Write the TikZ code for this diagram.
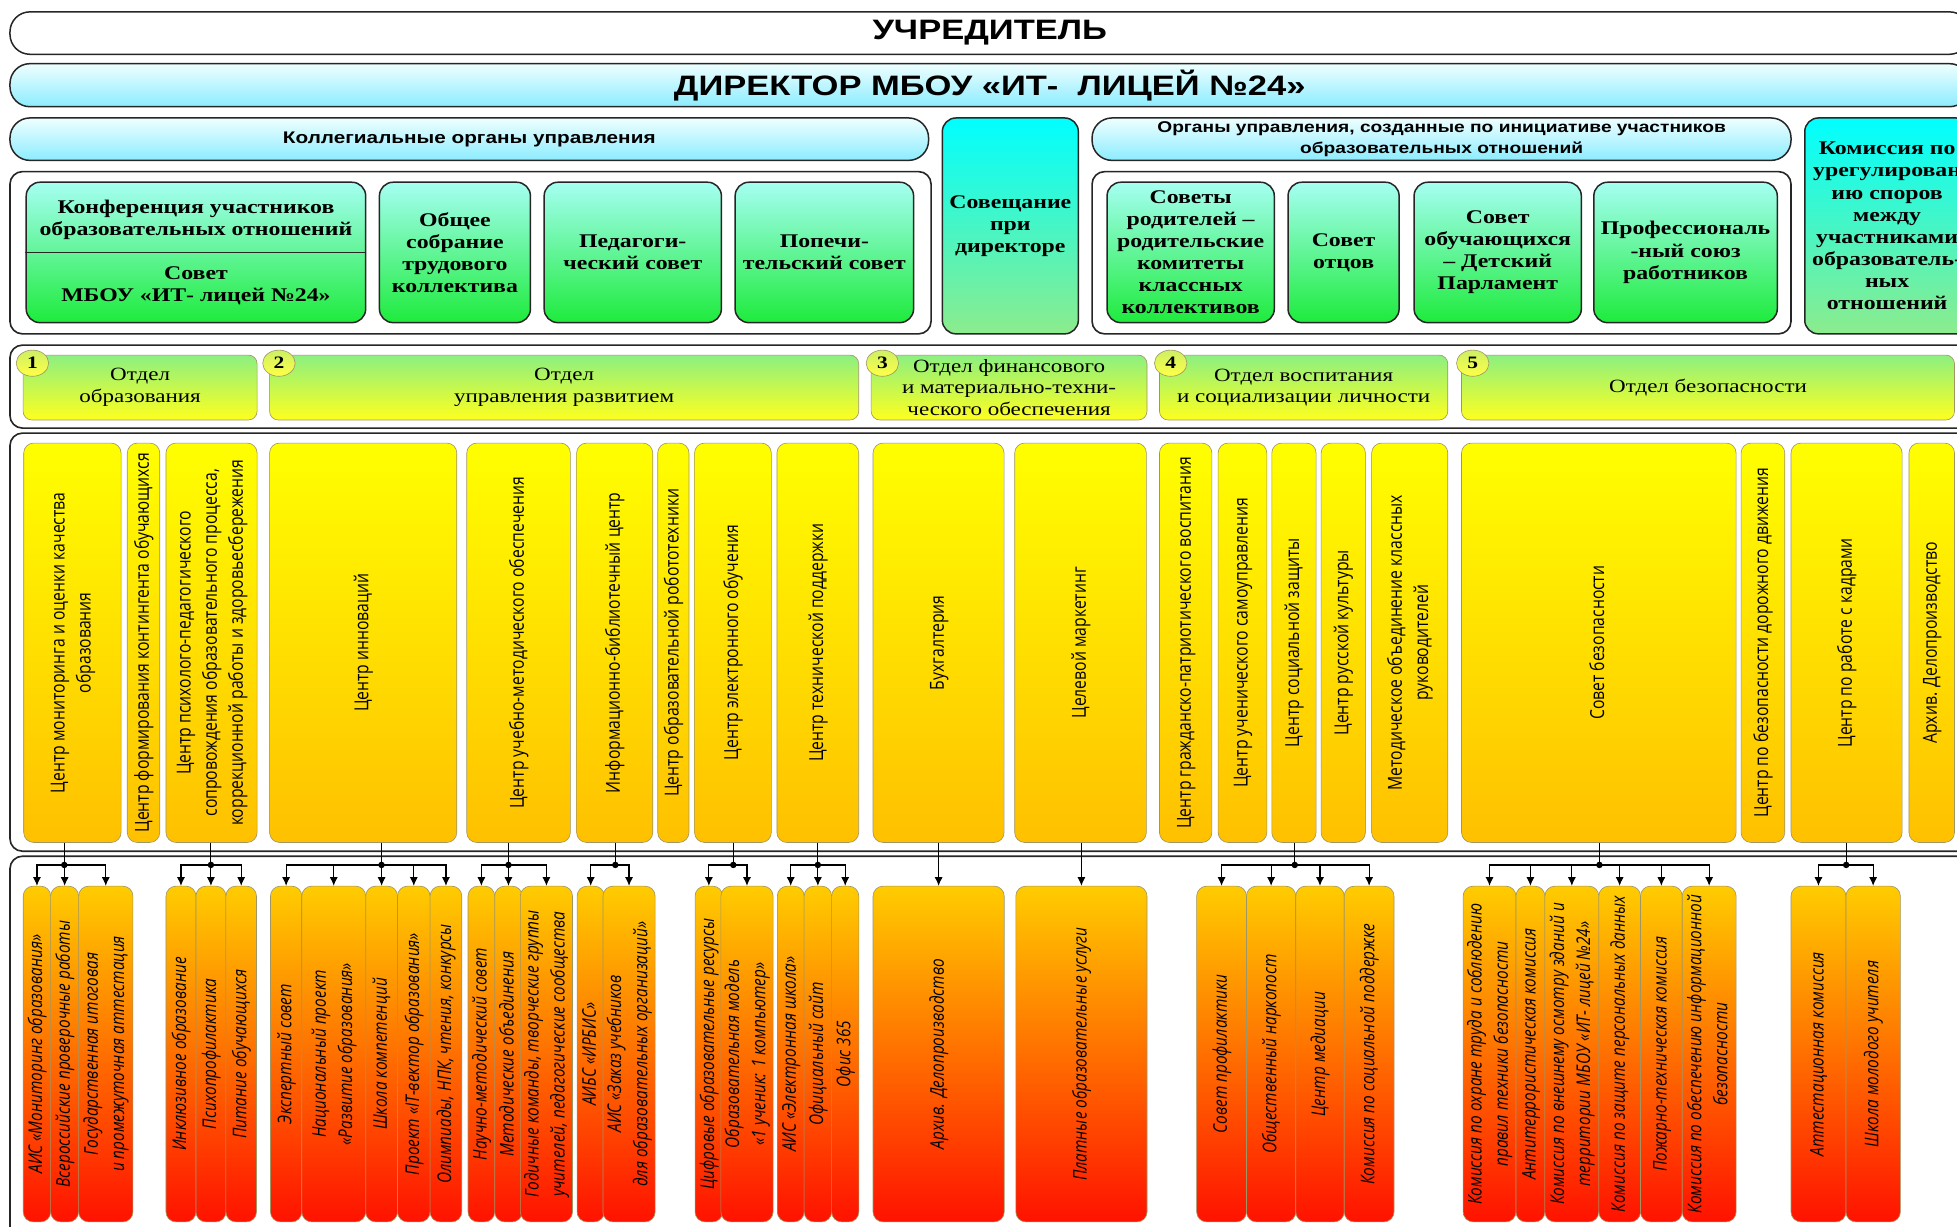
\documentclass[tikz,border=0pt]{standalone}
\usepackage{graphicx}
\usepackage{fontspec}
\setmainfont{Liberation Serif}
\newfontfamily\hsans[FakeStretch=1.23]{Liberation Sans}
\newfontfamily\hserif[FakeStretch=1.23]{Liberation Serif}
\newfontfamily\vsans{Open Sans}
\usetikzlibrary{arrows.meta,shapes.geometric}
\definecolor{cyanlt}{RGB}{238,255,255}
\definecolor{cyanmd}{RGB}{140,236,255}
\definecolor{grtop}{RGB}{165,255,242}
\definecolor{grbot}{RGB}{30,235,60}
\definecolor{cybright}{RGB}{0,255,255}
\definecolor{lgreen}{RGB}{140,236,140}
\definecolor{dtop}{RGB}{140,240,128}
\definecolor{dbot}{RGB}{255,255,30}
\definecolor{ntop}{RGB}{205,240,100}
\definecolor{nbot}{RGB}{255,255,70}
\definecolor{ytop}{RGB}{255,255,0}
\definecolor{ybot}{RGB}{255,192,0}
\definecolor{otop}{RGB}{255,204,0}
\definecolor{obot}{RGB}{255,18,0}
\definecolor{edgec}{RGB}{160,150,100}
\newcommand\bx[7]{\node[#6, minimum width={(#3-#2)*1pt}, minimum height={(#5-#4)*1pt}] (#1) at ({(#2+#3)/2},{(#4+#5)/2}) {#7};}
\newcommand\vt[1]{\rotatebox{90}{\scalebox{1}[1.23]{\vsans\fontsize{12.6}{17}\selectfont\begin{tabular}{@{}c@{}}#1\end{tabular}}}}
\newcommand\vi[1]{\rotatebox{90}{\scalebox{1}[1.23]{\vsans\itshape\fontsize{12.3}{17}\selectfont\begin{tabular}{@{}c@{}}#1\end{tabular}}}}
\begin{document}
\begin{tikzpicture}[x=1pt,y=-1pt,
  pill/.style={draw=black!85, line width=1.2pt, rounded corners=16pt, inner sep=0pt, align=center, font=\hsans\bfseries\fontsize{13.5}{17}\selectfont},
  cont/.style={draw=black!85, line width=1.3pt, rounded corners=10pt, fill=white, inner sep=0pt},
  green/.style={draw=black!85, line width=1.2pt, rounded corners=11pt, top color=grtop, bottom color=grbot, inner sep=0pt, align=center, font=\hserif\bfseries\fontsize{15.5}{17.7}\selectfont},
  sovbox/.style={green, top color=cybright, bottom color=lgreen},
  dept/.style={draw=edgec, line width=0.5pt, rounded corners=7pt, top color=dtop, bottom color=dbot, inner sep=0pt, align=center, font=\hserif\fontsize{15}{17.5}\selectfont},
  num/.style={ellipse, draw=edgec, line width=0.5pt, top color=ntop, bottom color=nbot, minimum width=26pt, minimum height=21pt, inner sep=0pt, font=\hserif\bfseries\fontsize{14}{14}\selectfont},
  ybox/.style={draw=edgec, line width=0.5pt, rounded corners=8pt, top color=ytop, bottom color=ybot, inner sep=0pt},
  obox/.style={draw=edgec, line width=0.5pt, rounded corners=8pt, top color=otop, bottom color=obot, inner sep=0pt},
  conn/.style={line width=0.9pt, draw=black},
  arr/.style={conn, -{Latex[length=7pt,width=6.5pt]}}
]
\useasboundingbox (0,0) rectangle (1568,983);
\clip (0,0) rectangle (1568,983);
\fill[white] (0,0) rectangle (1568,983);
% row 1-2
\bx{ucr}{8}{1578}{9.5}{43.5}{pill,fill=white,font=\hsans\bfseries\fontsize{22.5}{24}\selectfont}{УЧРЕДИТЕЛЬ}
\bx{dir}{8}{1578}{51}{85.5}{pill,top color=cyanlt,bottom color=cyanmd,font=\hsans\bfseries\fontsize{22.5}{24}\selectfont}{ДИРЕКТОР МБОУ «ИТ-\ \ ЛИЦЕЙ №24»}
% row 3 left
\bx{koll}{8}{744}{94.5}{128.5}{pill,top color=cyanlt,bottom color=cyanmd}{Коллегиальные органы управления}
\bx{kc}{8}{746}{137.5}{267.5}{cont}{}
\bx{konf}{21}{293}{146}{258.5}{green}{Конференция участников\\образовательных отношений\\[17pt]Совет\\МБОУ «ИТ- лицей №24»}
\draw[line width=1.2pt, black!85] (konf.west) -- (konf.east);
\bx{obsh}{304}{425}{146}{258.5}{green}{Общее\\собрание\\трудового\\коллектива}
\bx{ped}{436}{578}{146}{258.5}{green}{Педагоги-\\ческий совет}
\bx{pop}{589}{732}{146}{258.5}{green}{Попечи-\\тельский совет}
\bx{sov}{755}{864}{94.5}{267.5}{sovbox}{Совещание\\при\\директоре}
% row 3 right
\bx{org}{875}{1435}{94.5}{128.5}{pill,top color=cyanlt,bottom color=cyanmd,font=\hsans\bfseries\fontsize{12.5}{17}\selectfont}{Органы управления, созданные по инициативе участников\\образовательных отношений}
\bx{oc}{875}{1435}{137.5}{267.5}{cont}{}
\bx{rod}{887}{1021}{146}{258.5}{green}{Советы\\родителей –\\родительские\\комитеты\\классных\\коллективов}
\bx{otc}{1032}{1121}{146}{258.5}{green}{Совет\\отцов}
\bx{obu}{1133}{1267}{146}{258.5}{green}{Совет\\обучающихся\\– Детский\\Парламент}
\bx{prof}{1277}{1424}{146}{258.5}{green}{Профессиональ\\-ный союз\\работников}
\bx{kom}{1446}{1578}{94.5}{267.5}{sovbox}{Комиссия по\\урегулирован\\ию споров\\между\\участниками\\образователь-\\ных\\отношений}
% row 4 departments
\bx{c4}{8}{1580}{276.5}{343}{cont}{}
\bx{d1}{18.5}{206}{284.5}{336.5}{dept}{Отдел\\образования}
\bx{d2}{216}{688}{284.5}{336.5}{dept}{Отдел\\управления развитием}
\bx{d3}{698}{919}{284.5}{336.5}{dept}{Отдел финансового\\и материально-техни-\\ческого обеспечения}
\bx{d4}{929}{1160}{284.5}{336.5}{dept}{Отдел воспитания\\и социализации личности}
\bx{d5}{1171}{1566}{284.5}{336.5}{dept}{Отдел безопасности}
\node[num] (n1) at (26,291) {1};
\node[num] (n2) at (223.5,291) {2};
\node[num] (n3) at (707,291) {3};
\node[num] (n4) at (938,291) {4};
\node[num] (n5) at (1180,291) {5};
% row 5 centres
\bx{c5}{8}{1580}{347}{682}{cont}{}
\bx{y1}{19}{97}{355}{675}{ybox}{\vt{Центр мониторинга и оценки качества\\образования}}
\bx{y2}{102}{128}{355}{675}{ybox}{\vt{Центр формирования контингента обучающихся}}
\bx{y3}{133}{206}{355}{675}{ybox}{\vt{Центр психолого-педагогического\\сопровождения образовательного процесса,\\коррекционной работы и здоровьесбережения}}
\bx{y4}{216}{366}{355}{675}{ybox}{\vt{Центр инноваций}}
\bx{y5}{374}{457}{355}{675}{ybox}{\vt{Центр учебно-методического обеспечения}}
\bx{y6}{462}{523}{355}{675}{ybox}{\vt{Информационно-библиотечный центр}}
\bx{y7}{527}{552}{355}{675}{ybox}{\vt{Центр образовательной робототехники}}
\bx{y8}{556.5}{618}{355}{675}{ybox}{\vt{Центр электронного обучения}}
\bx{y9}{622.5}{688}{355}{675}{ybox}{\vt{Центр технической поддержки}}
\bx{y10}{699.5}{804.5}{355}{675}{ybox}{\vt{Бухгалтерия}}
\bx{y11}{813}{918.5}{355}{675}{ybox}{\vt{Целевой маркетинг}}
\bx{y12}{929}{971}{355}{675}{ybox}{\vt{Центр гражданско-патриотического воспитания}}
\bx{y13}{976}{1015}{355}{675}{ybox}{\vt{Центр ученического самоуправления}}
\bx{y14}{1019}{1054.5}{355}{675}{ybox}{\vt{Центр социальной защиты}}
\bx{y15}{1058.5}{1094}{355}{675}{ybox}{\vt{Центр русской культуры}}
\bx{y16}{1099}{1160}{355}{675}{ybox}{\vt{Методическое объединение классных\\руководителей}}
\bx{y17}{1171}{1391}{355}{675}{ybox}{\vt{Совет безопасности}}
\bx{y18}{1395}{1430}{355}{675}{ybox}{\vt{Центр по безопасности дорожного движения}}
\bx{y19}{1435}{1524}{355}{675}{ybox}{\vt{Центр по работе с кадрами}}
\bx{y20}{1529.5}{1566}{355}{675}{ybox}{\vt{Архив. Делопроизводство}}
% row 6 units
\bx{c6}{8}{1580}{686}{1000}{cont}{}
\bx{a1}{18.6}{40.6}{710}{979}{obox}{\vi{АИС «Мониторинг образования»}}
\bx{a2}{40.6}{63}{710}{979}{obox}{\vi{Всероссийские проверочные работы}}
\bx{a3}{63}{106.5}{710}{979}{obox}{\vi{Государственная итоговая\\и промежуточная аттестация}}
\bx{b1}{133}{157}{710}{979}{obox}{\vi{Инклюзивное образование}}
\bx{b2}{157}{181}{710}{979}{obox}{\vi{Психопрофилактика}}
\bx{b3}{181}{205.5}{710}{979}{obox}{\vi{Питание обучающихся}}
\bx{c1}{216.7}{241.8}{710}{979}{obox}{\vi{Экспертный совет}}
\bx{c2}{241.8}{293}{710}{979}{obox}{\vi{Национальный проект\\«Развитие образования»}}
\bx{c3}{293}{318.5}{710}{979}{obox}{\vi{Школа компетенций}}
\bx{c4b}{318.5}{344.6}{710}{979}{obox}{\vi{Проект «IT-вектор образования»}}
\bx{c5b}{344.6}{370}{710}{979}{obox}{\vi{Олимпиады, НПК, чтения, конкурсы}}
\bx{e1d}{375}{396.4}{710}{979}{obox}{\vi{Научно-методический совет}}
\bx{e2d}{396.4}{418.4}{710}{979}{obox}{\vi{Методические объединения}}
\bx{e3d}{418.4}{457.2}{710}{979}{obox}{\vi{Годичные команды, творческие группы\\учителей, педагогические сообщества}}
\bx{f1}{462.4}{484.2}{710}{979}{obox}{\vi{АИБС «ИРБИС»}}
\bx{f2}{484.2}{523.8}{710}{979}{obox}{\vi{АИС «Заказ учебников\\для образовательных организаций»}}
\bx{g1}{556.9}{579}{710}{979}{obox}{\vi{Цифровые образовательные ресурсы}}
\bx{g2}{579}{618}{710}{979}{obox}{\vi{Образовательная модель\\«1 ученик: 1 компьютер»}}
\bx{h1}{622.8}{644.3}{710}{979}{obox}{\vi{АИС «Электронная школа»}}
\bx{h2}{644.3}{666.3}{710}{979}{obox}{\vi{Официальный сайт}}
\bx{h3}{666.3}{688.1}{710}{979}{obox}{\vi{Офис 365}}
\bx{i1}{699.5}{804.6}{710}{979}{obox}{\vi{Архив. Делопроизводство}}
\bx{k1}{813.9}{919}{710}{979}{obox}{\vi{Платные образовательные услуги}}
\bx{j1}{958.8}{998.7}{710}{979}{obox}{\vi{Совет профилактики}}
\bx{j2}{998.7}{1038.2}{710}{979}{obox}{\vi{Общественный наркопост}}
\bx{j3}{1038.2}{1077}{710}{979}{obox}{\vi{Центр медиации}}
\bx{j4}{1077}{1116.9}{710}{979}{obox}{\vi{Комиссия по социальной поддержке}}
\bx{s1}{1172.3}{1214.6}{710}{979}{obox}{\vi{Комиссия по охране труда и соблюдению\\правил техники безопасности}}
\bx{s2}{1214.6}{1237.8}{710}{979}{obox}{\vi{Антитеррористическая комиссия}}
\bx{s3}{1237.8}{1281}{710}{979}{obox}{\vi{Комиссия по внешнему осмотру зданий и\\территории МБОУ «ИТ- лицей №24»}}
\bx{s4}{1281}{1314.4}{710}{979}{obox}{\vi{Комиссия по защите персональных данных}}
\bx{s5}{1314.4}{1347.8}{710}{979}{obox}{\vi{Пожарно-техническая комиссия}}
\bx{s6}{1347.8}{1391}{710}{979}{obox}{\vi{Комиссия по обеспечению информационной\\безопасности}}
\bx{l1}{1435}{1479}{710}{979}{obox}{\vi{Аттестационная комиссия}}
\bx{l2}{1479}{1522.6}{710}{979}{obox}{\vi{Школа молодого учителя}}
% connectors
\coordinate (jA) at (51.5,693);
\coordinate (jB) at (169,693);
\coordinate (jC) at (305.7,693);
\coordinate (jD) at (407.4,693);
\coordinate (jE) at (493,693);
\coordinate (jF) at (587.5,693);
\coordinate (jG) at (655.3,693);
\coordinate (jJ) at (1037.4,693);
\coordinate (jK) at (1281.5,693);
\coordinate (jL) at (1479.2,693);
\draw[conn] (jA |- y1.south) -- (jA);
\draw[conn] (jB |- y3.south) -- (jB);
\draw[conn] (jC |- y4.south) -- (jC);
\draw[conn] (jD |- y5.south) -- (jD);
\draw[conn] (jE |- y6.south) -- (jE);
\draw[conn] (jF |- y8.south) -- (jF);
\draw[conn] (jG |- y9.south) -- (jG);
\draw[conn] (jJ |- y14.south) -- (jJ);
\draw[conn] (jK |- y17.south) -- (jK);
\draw[conn] (jL |- y19.south) -- (jL);
\foreach \c in {a1,a2,a3} \draw[arr] (jA) -| (\c.north);
\foreach \c in {b1,b2,b3} \draw[arr] (jB) -| (\c.north);
\foreach \c in {c1,c2,c3,c4b,c5b} \draw[arr] (jC) -| (\c.north);
\foreach \c in {e1d,e2d,e3d} \draw[arr] (jD) -| (\c.north);
\foreach \c in {f1,f2} \draw[arr] (jE) -| (\c.north);
\foreach \c in {g1,g2} \draw[arr] (jF) -| (\c.north);
\foreach \c in {h1,h2,h3} \draw[arr] (jG) -| (\c.north);
\foreach \c in {j1,j2,j3,j4} \draw[arr] (jJ) -| (\c.north);
\foreach \c in {s1,s2,s3,s4,s5,s6} \draw[arr] (jK) -| (\c.north);
\foreach \c in {l1,l2} \draw[arr] (jL) -| (\c.north);
\draw[arr] (y10.south -| i1.north) -- (i1.north);
\draw[arr] (y11.south -| k1.north) -- (k1.north);
\foreach \j in {jA,jB,jC,jD,jE,jF,jG,jJ,jK,jL} \fill (\j) circle (2.6);
\end{tikzpicture}
\end{document}
